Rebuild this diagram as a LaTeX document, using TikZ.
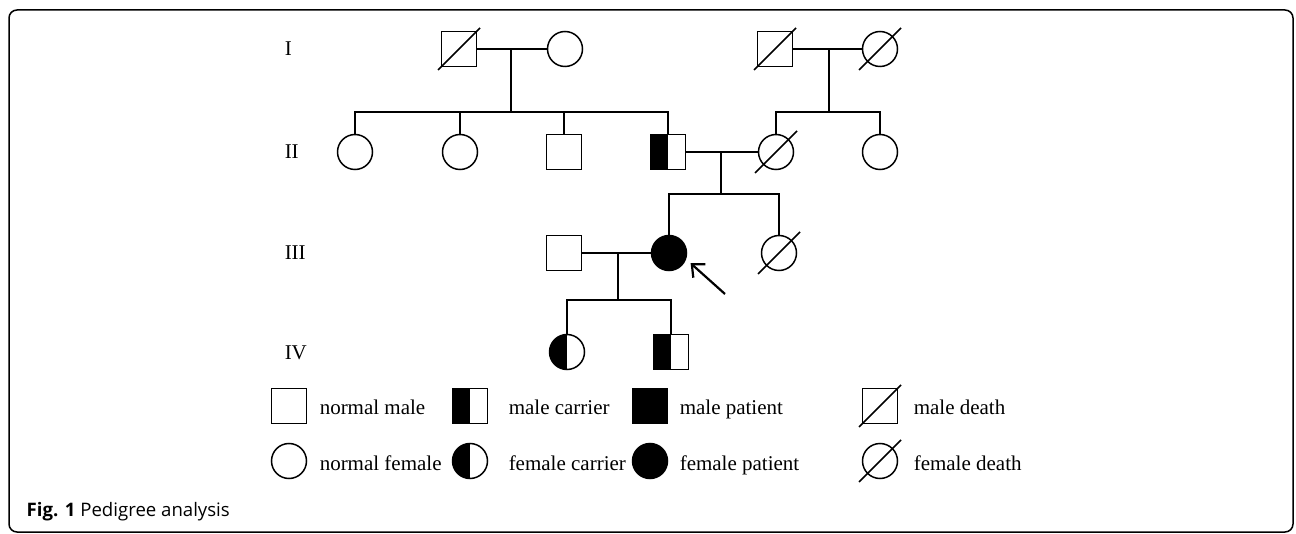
\documentclass[tikz,border=0pt]{standalone}
\usepackage{fontspec}
\setmainfont{Liberation Serif}
\newfontfamily\capfont{Open Sans}
\usetikzlibrary{arrows.meta}

\tikzset{
  male/.style={draw, rectangle, minimum size=17.5pt, inner sep=0pt},
  female/.style={draw, circle, minimum size=17.5pt, inner sep=0pt},
  carrier/.style={path picture={\fill (path picture bounding box.south west) rectangle (path picture bounding box.north);}},
  affected/.style={fill=black},
  gen/.style={anchor=base west, inner sep=0pt, font=\fontsize{10.5}{12}\selectfont},
  key/.style={anchor=base west, inner sep=0pt, font=\fontsize{10.5}{12}\selectfont},
}

\begin{document}
\begin{tikzpicture}[x=0.5pt, y=-0.5pt, line width=0.75pt]
      \useasboundingbox (0,0) rectangle (1296,534);
      \draw[rounded corners=4pt] (9,10) rectangle (1293,532);
      % generations
      \path
        (284,56) node[gen] (g1){I}
        (284,159) node[gen] (g2){II}
        (284,260) node[gen] (g3){III}
        (284,359) node[gen] (g4){IV};
      \path
        (459,49) node[male] (i1){}
        (565,49) node[female] (i2){}
        (775,49) node[male] (i3){}
        (880,49) node[female] (i4){}
        (355,152) node[female] (ii1){}
        (460,152) node[female] (ii2){}
        (564,152) node[male] (ii3){}
        (668,152) node[male,carrier] (ii4){}
        (776,152) node[female] (ii5){}
        (880,152) node[female] (ii6){}
        (564,253) node[male] (iii1){}
        (669,253) node[female,affected] (iii2){}
        (779,253) node[female] (iii3){}
        (567,352) node[female,carrier] (iv1){}
        (671,352) node[male,carrier] (iv2){};
      \coordinate (m1) at (511,49);
      \coordinate (s1) at (511,112);
      \coordinate (m2) at (829,49);
      \coordinate (s2) at (829,112);
      \coordinate (m3) at (721,152);
      \coordinate (s3) at (721,194);
      \coordinate (m4) at (618,253);
      \coordinate (s4) at (618,300);
      \coordinate (arr) at (725,294);
      \begin{scope}[-]
        \draw (i1) to (i2);
        \draw (m1) to (s1);
        \foreach \k in {ii1,ii2,ii3,ii4} \draw (s1) -| (\k);
        \draw (i3) to (i4);
        \draw (m2) to (s2);
        \foreach \k in {ii5,ii6} \draw (s2) -| (\k);
        \draw (ii4) to (ii5);
        \draw (m3) to (s3);
        \foreach \k in {iii2,iii3} \draw (s3) -| (\k);
        \draw (iii1) to (iii2);
        \draw (m4) to (s4);
        \foreach \k in {iv1,iv2} \draw (s4) -| (\k);
      \end{scope}
      % deceased
      \foreach \k in {i1,i3,i4,ii5,iii3}
        \draw ([shift={(-21,21)}]\k.center) -- ([shift={(21,-21)}]\k.center);
      % proband
      \draw[line width=1.1pt, -{Straight Barb[length=5pt,width=9pt]}, shorten >=3pt] (arr) -- (iii2.-20);
      % key
      \path
        (289,406) node[male] (k1){}
        (470,406) node[male,carrier] (k2){}
        (650,406) node[male,affected] (k3){}
        (880,406) node[male] (k4){}
        (289,461) node[female] (k5){}
        (470,461) node[female,carrier] (k6){}
        (650,461) node[female,affected] (k7){}
        (880,461) node[female] (k8){};
      \foreach \k in {k4,k8}
        \draw ([shift={(-21,21)}]\k.center) -- ([shift={(21,-21)}]\k.center);
      \path
        (319,415) node[key] (t1){normal male}
        (508,415) node[key] (t2){male carrier}
        (679,415) node[key] (t3){male patient}
        (913,415) node[key] (t4){male death}
        (319,470) node[key] (t5){normal female}
        (508,470) node[key] (t6){female carrier}
        (679,470) node[key] (t7){female patient}
        (913,470) node[key] (t8){female death};
      \node[anchor=base west, inner sep=0pt, font=\capfont\fontsize{9.3}{11}\selectfont] (cap) at (26,516) {\textbf{Fig. 1} Pedigree analysis};
    \end{tikzpicture}
\end{document}
